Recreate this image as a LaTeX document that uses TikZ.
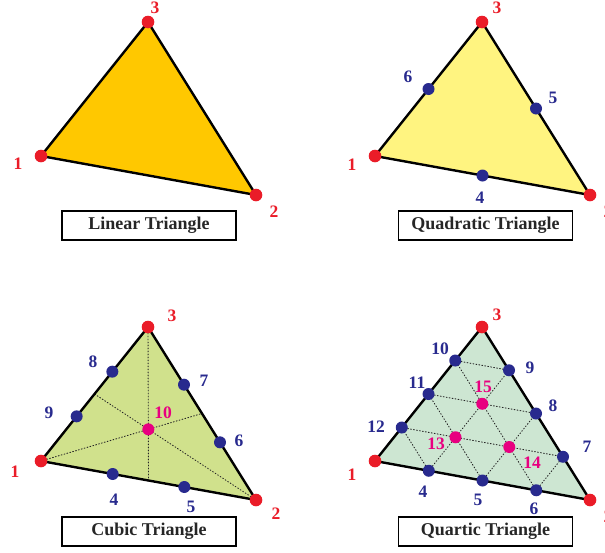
\documentclass[tikz,border=0pt]{standalone}
\usepackage{fontspec}
\setmainfont{Liberation Serif}
\usetikzlibrary{calc}
\definecolor{vred}{RGB}{234,28,40}
\definecolor{vblue}{RGB}{40,42,142}
\definecolor{vpink}{RGB}{232,0,128}
\definecolor{linfill}{RGB}{255,200,0}
\definecolor{quadfill}{RGB}{255,244,128}
\definecolor{cubfill}{RGB}{208,225,140}
\definecolor{quarfill}{RGB}{205,230,210}
\tikzset{
  edge/.style={line width=2.4pt,line join=round},
  gridline/.style={line width=0.9pt,dash pattern=on 0.9pt off 2.1pt,black!85},
  cornerlab/.style={text=vred,font=\fontsize{17.5}{17.5}\selectfont\bfseries,inner sep=0pt},
  sidelab/.style={text=vblue,font=\fontsize{17.5}{17.5}\selectfont\bfseries,inner sep=0pt},
  innerlab/.style={text=vpink,font=\fontsize{17.5}{17.5}\selectfont\bfseries,inner sep=0pt},
  namebox/.style={draw,line width=1.2pt,minimum width=174pt,minimum height=29pt,inner sep=0pt,
    font=\fontsize{18}{18}\selectfont\bfseries,text=black!85}
}
\begin{document}
\begin{tikzpicture}[x=1pt,y=-1pt,line cap=round]
  \useasboundingbox (0,0) rectangle (605,552);
  % linear
  \begin{scope}
    \coordinate (lin1) at (41,156);
    \coordinate (lin2) at (256,195);
    \coordinate (lin3) at (148,22);
    \filldraw[edge,fill=linfill] (lin1) -- (lin2) -- (lin3) -- cycle;
    \foreach \p in {lin1,lin2,lin3} \fill[vred] (\p) circle (6.3pt);
    \node[cornerlab] (lin1l) at (18,164) {1};
    \node[cornerlab] (lin2l) at (274,212) {2};
    \node[cornerlab] (lin3l) at (155,7.5) {3};
    \node[namebox] (linbox) at (149,225.5) {Linear Triangle};
  \end{scope}
  % quadratic
  \begin{scope}[shift={(334,0)}]
    \coordinate (quad1) at (41,156);
    \coordinate (quad2) at (256,195);
    \coordinate (quad3) at (148,22);
    \coordinate (quad4) at ($(quad1)!0.5!(quad2)$);
    \coordinate (quad5) at ($(quad2)!0.5!(quad3)$);
    \coordinate (quad6) at ($(quad3)!0.5!(quad1)$);
    \filldraw[edge,fill=quadfill] (quad1) -- (quad2) -- (quad3) -- cycle;
    \foreach \p in {quad1,quad2,quad3} \fill[vred] (\p) circle (6.3pt);
    \foreach \p in {quad4,quad5,quad6} \fill[vblue] (\p) circle (6pt);
    \node[cornerlab] (quad1l) at (18,165) {1};
    \node[cornerlab] (quad2l) at (274,212) {2};
    \node[cornerlab] (quad3l) at (163,7.5) {3};
    \node[sidelab] (quad4l) at (146,198) {4};
    \node[sidelab] (quad5l) at (219,98) {5};
    \node[sidelab] (quad6l) at (74,77) {6};
    \node[namebox] (quadbox) at (151.5,225.5) {Quadratic Triangle};
  \end{scope}
  % cubic
  \begin{scope}[shift={(0,305)}]
    \coordinate (cub1) at (41,156);
    \coordinate (cub2) at (256,195);
    \coordinate (cub3) at (148,22);
    \coordinate (cub4) at ($(cub1)!1/3!(cub2)$);
    \coordinate (cub5) at ($(cub1)!2/3!(cub2)$);
    \coordinate (cub6) at ($(cub2)!1/3!(cub3)$);
    \coordinate (cub7) at ($(cub2)!2/3!(cub3)$);
    \coordinate (cub8) at ($(cub3)!1/3!(cub1)$);
    \coordinate (cub9) at ($(cub3)!2/3!(cub1)$);
    \coordinate (cub10) at ($1/3*(cub1)+1/3*(cub2)+1/3*(cub3)$);
    \coordinate (cubm12) at ($(cub1)!0.5!(cub2)$);
    \coordinate (cubm23) at ($(cub2)!0.5!(cub3)$);
    \coordinate (cubm31) at ($(cub3)!0.5!(cub1)$);
    \fill[cubfill] (cub1) -- (cub2) -- (cub3) -- cycle;
    \draw[gridline] (cub3) -- (cubm12);
    \draw[gridline] (cub1) -- (cubm23);
    \draw[gridline] (cub2) -- (cubm31);
    \draw[edge] (cub1) -- (cub2) -- (cub3) -- cycle;
    \foreach \p in {cub1,cub2,cub3} \fill[vred] (\p) circle (6.3pt);
    \foreach \p in {cub4,cub5,cub6,cub7,cub8,cub9} \fill[vblue] (\p) circle (6pt);
    \fill[vpink] (cub10) circle (6pt);
    \node[cornerlab] (cub1l) at (15,167) {1};
    \node[cornerlab] (cub2l) at (276,209) {2};
    \node[cornerlab] (cub3l) at (172,11) {3};
    \node[sidelab] (cub4l) at (114,195) {4};
    \node[sidelab] (cub5l) at (191,202) {5};
    \node[sidelab] (cub6l) at (239,136) {6};
    \node[sidelab] (cub7l) at (204,76) {7};
    \node[sidelab] (cub8l) at (93,57) {8};
    \node[sidelab] (cub9l) at (49,108) {9};
    \node[innerlab] (cub10l) at (163,108) {10};
    \node[namebox] (cubbox) at (149,226.5) {Cubic Triangle};
  \end{scope}
  % quartic
  \begin{scope}[shift={(334,305)}]
    \coordinate (quar1) at (41,156);
    \coordinate (quar2) at (256,195);
    \coordinate (quar3) at (148,22);
    \coordinate (quar4) at ($(quar1)!0.25!(quar2)$);
    \coordinate (quar5) at ($(quar1)!0.5!(quar2)$);
    \coordinate (quar6) at ($(quar1)!0.75!(quar2)$);
    \coordinate (quar7) at ($(quar2)!0.25!(quar3)$);
    \coordinate (quar8) at ($(quar2)!0.5!(quar3)$);
    \coordinate (quar9) at ($(quar2)!0.75!(quar3)$);
    \coordinate (quar10) at ($(quar3)!0.25!(quar1)$);
    \coordinate (quar11) at ($(quar3)!0.5!(quar1)$);
    \coordinate (quar12) at ($(quar3)!0.75!(quar1)$);
    \coordinate (quar13) at ($0.5*(quar1)+0.25*(quar2)+0.25*(quar3)$);
    \coordinate (quar14) at ($0.25*(quar1)+0.5*(quar2)+0.25*(quar3)$);
    \coordinate (quar15) at ($0.25*(quar1)+0.25*(quar2)+0.5*(quar3)$);
    \fill[quarfill] (quar1) -- (quar2) -- (quar3) -- cycle;
    \foreach \a/\b in {12/7,11/8,10/9,4/12,5/11,6/10,4/9,5/8,6/7}
      \draw[gridline] (quar\a) -- (quar\b);
    \draw[edge] (quar1) -- (quar2) -- (quar3) -- cycle;
    \foreach \p in {quar1,quar2,quar3} \fill[vred] (\p) circle (6.3pt);
    \foreach \p in {4,...,12} \fill[vblue] (quar\p) circle (6pt);
    \foreach \p in {13,14,15} \fill[vpink] (quar\p) circle (6pt);
    \node[cornerlab] (quar1l) at (18,170) {1};
    \node[cornerlab] (quar2l) at (274,212) {2};
    \node[cornerlab] (quar3l) at (163,10) {3};
    \node[sidelab] (quar4l) at (89,187) {4};
    \node[sidelab] (quar5l) at (144,195) {5};
    \node[sidelab] (quar6l) at (200,204) {6};
    \node[sidelab] (quar7l) at (253,142) {7};
    \node[sidelab] (quar8l) at (219,101) {8};
    \node[sidelab] (quar9l) at (196,63) {9};
    \node[sidelab] (quar10l) at (106,44) {10};
    \node[sidelab] (quar11l) at (83,78) {11};
    \node[sidelab] (quar12l) at (42,122) {12};
    \node[innerlab] (quar13l) at (102,139) {13};
    \node[innerlab] (quar14l) at (198,158) {14};
    \node[innerlab] (quar15l) at (149,82) {15};
    \node[namebox] (quarbox) at (151.5,226.5) {Quartic Triangle};
  \end{scope}
\end{tikzpicture}
\end{document}
